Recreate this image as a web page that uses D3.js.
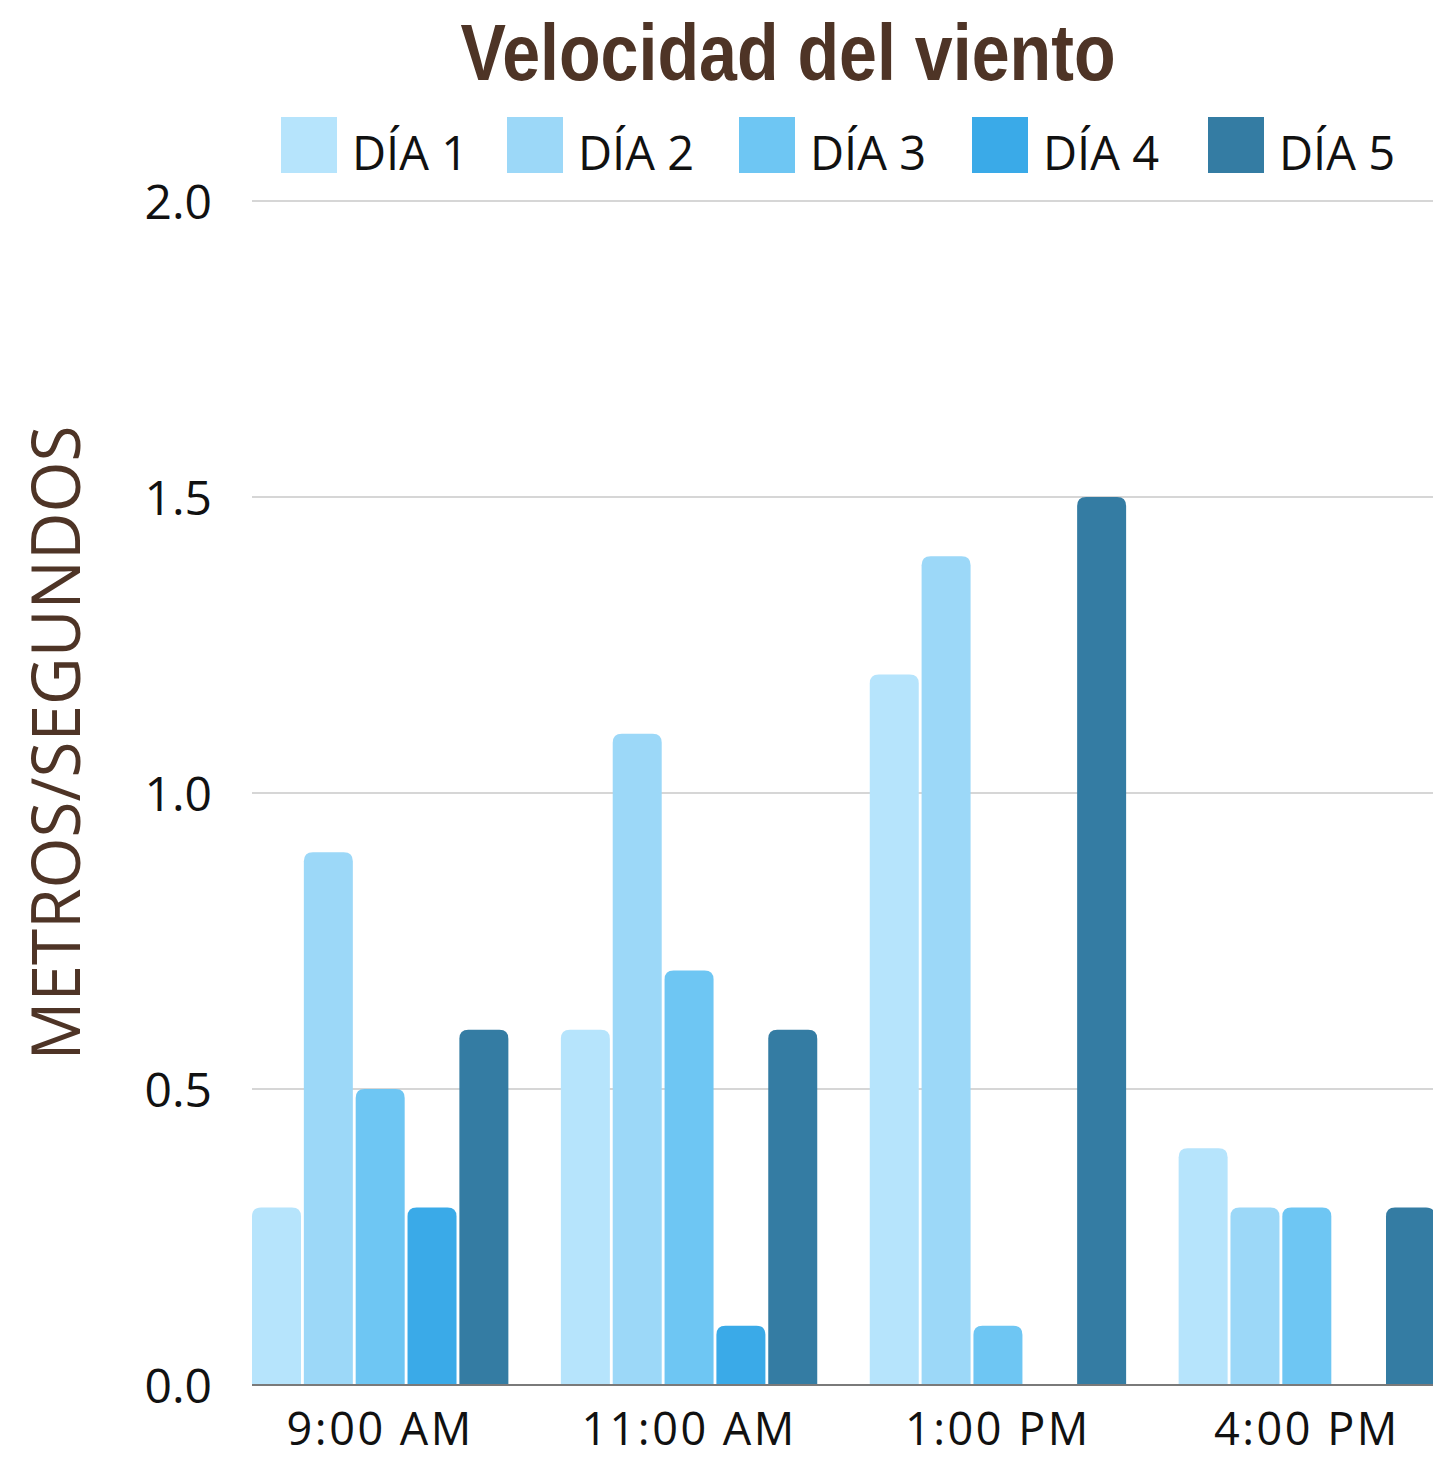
<!DOCTYPE html>
<html><head><meta charset="utf-8">
<script src="https://cdn.jsdelivr.net/npm/d3@7"></script>
<style>body{margin:0;background:#fff}svg{display:block}</style>
</head><body>
<svg id="chart" width="1433" height="1459"></svg>
<script>
const categories = ["9:00 AM", "11:00 AM", "1:00 PM", "4:00 PM"];
const seriesNames = ["DÍA 1", "DÍA 2", "DÍA 3", "DÍA 4", "DÍA 5"];
const dia1 = [0.3, 0.6, 1.2, 0.4];
const dia2 = [0.9, 1.1, 1.4, 0.3];
const dia3 = [0.5, 0.7, 0.1, 0.3];
const dia4 = [0.3, 0.1, 0, 0];
const dia5 = [0.6, 0.6, 1.5, 0.3];
const yTicks = [0, 0.5, 1.0, 1.5, 2.0];
const colors = ["#b6e4fc", "#9cd8f8", "#6ec6f3", "#3aaae8", "#347ca3"];

const series = [dia1, dia2, dia3, dia4, dia5];
const svg = d3.select("#chart");
const font = "'Open Sans', sans-serif";

const x0 = d3.scaleBand().domain(categories).range([252, 1435]).paddingInner(0.17).paddingOuter(0);
const x1 = d3.scaleBand().domain(d3.range(5)).range([0, x0.bandwidth()]).paddingInner(0.055).paddingOuter(0);
const y = d3.scaleLinear().domain([0, 2]).range([1385, 201]);

// gridlines
svg.append("g").selectAll("line").data(yTicks.filter(d => d > 0)).join("line")
  .attr("x1", 252).attr("x2", 1433).attr("y1", d => y(d)).attr("y2", d => y(d))
  .attr("stroke", "#c8c8c8").attr("stroke-width", 1.3);

// y axis
const yAxis = d3.axisLeft(y).tickValues(yTicks).tickFormat(d3.format(".1f")).tickSize(0).tickPadding(40);
const gy = svg.append("g").attr("transform", "translate(252,0)").call(yAxis);
gy.select(".domain").remove();
gy.selectAll("text").attr("font-family", font).attr("font-size", 48).attr("fill", "#111")
  .attr("dy", "0.37em");

// bars with rounded tops
function barPath(x, yTop, w, yBase, r) {
  const h = yBase - yTop;
  if (h <= 0) return "";
  r = Math.min(r, h, w / 2);
  return `M${x},${yBase}V${yTop + r}Q${x},${yTop} ${x + r},${yTop}H${x + w - r}Q${x + w},${yTop} ${x + w},${yTop + r}V${yBase}Z`;
}
const groups = svg.append("g").selectAll("g").data(categories).join("g")
  .attr("transform", d => `translate(${x0(d)},0)`);
groups.selectAll("path").data((c, ci) => series.map((s, si) => ({si, v: s[ci]}))).join("path")
  .attr("fill", d => colors[d.si])
  .attr("d", d => barPath(x1(d.si), y(d.v), x1.bandwidth(), y(0), 9));

// baseline
svg.append("line").attr("x1", 252).attr("x2", 1433).attr("y1", y(0)).attr("y2", y(0))
  .attr("stroke", "#7a7a7a").attr("stroke-width", 2);

// x axis labels
const xAxis = d3.axisBottom(x0).tickSize(0).tickPadding(0);
const gx = svg.append("g").attr("transform", `translate(0,${y(0)})`).call(xAxis);
gx.select(".domain").remove();
gx.selectAll("text").attr("font-family", font).attr("font-size", 45).attr("fill", "#111")
  .attr("dy", null).attr("y", 60).attr("letter-spacing", 2.5);

// title
svg.append("text").attr("x", 788).attr("y", 80).attr("text-anchor", "middle")
  .attr("font-family", "'Liberation Sans', Arial, sans-serif").attr("font-weight", 700)
  .attr("font-size", 80).attr("fill", "#4e3426")
  .attr("textLength", 655).attr("lengthAdjust", "spacingAndGlyphs")
  .text("Velocidad del viento");

// y title
svg.append("text").attr("transform", "translate(80,743) rotate(-90)").attr("text-anchor", "middle")
  .attr("font-family", font).attr("font-size", 68).attr("fill", "#4e3426")
  .attr("textLength", 635).attr("lengthAdjust", "spacingAndGlyphs")
  .text("METROS/SEGUNDOS");

// legend
const legX = [281, 507, 739, 972, 1208];
const leg = svg.append("g").selectAll("g").data(seriesNames).join("g")
  .attr("transform", (d, i) => `translate(${legX[i]},117)`);
leg.append("rect").attr("width", 56).attr("height", 56).attr("fill", (d, i) => colors[i]);
leg.append("text").attr("x", 71).attr("y", 53).attr("font-family", font).attr("font-size", 47)
  .attr("fill", "#111").text(d => d);
</script>
</body></html>
